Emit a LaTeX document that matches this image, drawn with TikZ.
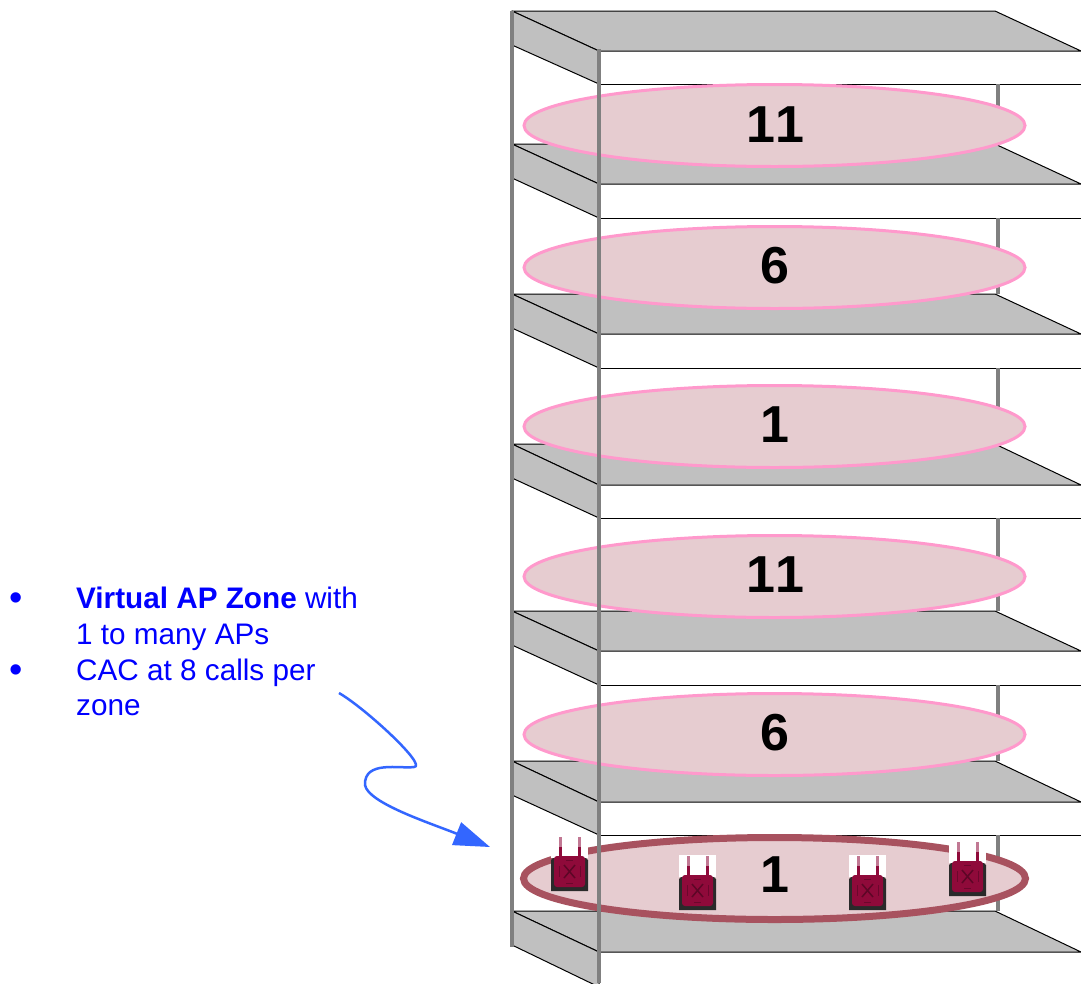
\documentclass[tikz,border=0pt]{standalone}
\usepackage{fontspec}
\setmainfont{Liberation Sans}
\newfontfamily\channelfont[Kerning=Off]{Liberation Sans}
\usetikzlibrary{arrows.meta}
\definecolor{floorgray}{HTML}{C0C0C0}
\definecolor{postgray}{HTML}{808080}
\definecolor{zonefill}{HTML}{E6CCD0}
\definecolor{zonepink}{HTML}{FF99CC}
\definecolor{zonered}{HTML}{A8525F}
\definecolor{apred}{HTML}{8F0A3A}
\definecolor{apdark}{HTML}{2A2A2A}
\definecolor{calloutblue}{HTML}{3366FF}
\tikzset{
	floorplate/.style={fill=floorgray, draw=black, line width=1pt, line join=round},
	post/.style={draw=postgray, line width=4.5pt},
	zone/.style={fill=zonefill, draw=zonepink, line width=3pt},
	channel/.style={font=\channelfont\fontsize{52}{52}\selectfont\bfseries, text=black, inner sep=0pt},
	callout/.style={font=\fontsize{29.7}{36}\selectfont, text=blue, inner sep=0pt, anchor=base west},
	dot/.style={callout, font=\fontsize{38}{38}\selectfont}
}
% back edge, front edge and lower edge of one shelf
\def\shelf(#1,#2,#3){
	\draw[floorplate] (512, #1) -- (995, #1) -- (1081, #2) -- (599, #2) -- cycle;
	\draw[floorplate] (512, #1) -- (599, #2) -- (599, #3) -- (512, {#1+34}) -- cycle;
	\draw[black, line width=1pt] (599, #3) -- (1081, #3);
}
\def\accesspoint(#1,#2){
	\begin{scope}[shift={(#1, #2)}]
		\fill[white] (0, 0) rectangle (37, 22);
		\fill[apdark] (0, 24) -- (2, 22) -- (35, 22) -- (37, 24) -- (37, 55) -- (0, 55) -- cycle;
		\fill[apred, rounded corners=3pt] (3, 20) rectangle (34, 51);
		\draw[apred!55, line width=3pt] (9, 1) -- (9, 11);
		\draw[apred!55, line width=3pt] (28, 1) -- (28, 11);
		\draw[apred, line width=3pt] (9, 11) -- (9, 21);
		\draw[apred, line width=3pt] (28, 11) -- (28, 21);
		\draw[apred!65!black, line width=1.5pt] (13, 29) -- (24, 42);
		\draw[apred!65!black, line width=1.5pt] (24, 29) -- (13, 42);
		\draw[apred!75!black, line width=1pt] (8, 30) -- (8, 41);
		\draw[apred!75!black, line width=1pt] (29, 30) -- (29, 41);
		\draw[apred!75!black, line width=1pt] (15, 24) -- (22, 24);
		\draw[apred!75!black, line width=1pt] (15, 47) -- (22, 47);
	\end{scope}
}

\begin{document}
\begin{tikzpicture}[x=1pt, y=-1pt]
	%%%%% START %%%%%
	\useasboundingbox (0, 0) rectangle (1081, 983);
	\clip (0, 0) rectangle (1081, 983);
	\fill[white] (0, 0) rectangle (1081, 983);

	\shelf(11, 51, 84);
	\shelf(144, 184, 218);
	\shelf(294, 334, 368);
	\shelf(444, 485, 518);
	\shelf(611, 651, 685);
	\shelf(761, 802, 835);
	\shelf(911, 952, 987);

	\draw[post] (998, 84) -- (998, 144);
	\draw[post] (998, 218) -- (998, 294);
	\draw[post] (998, 368) -- (998, 444);
	\draw[post] (998, 518) -- (998, 611);
	\draw[post] (998, 685) -- (998, 761);
	\draw[post] (998, 835) -- (998, 911);

	\draw[zone] (774.5, 125.5) ellipse (250.5 and 41);
	\draw[zone] (774.5, 267.5) ellipse (250.5 and 41);
	\draw[zone] (774.5, 426.5) ellipse (250.5 and 41);
	\draw[zone] (774.5, 576.5) ellipse (250.5 and 41);
	\draw[zone] (774.5, 734.5) ellipse (250.5 and 41);
	\draw[zone, draw=zonered, line width=7pt] (774.5, 878.5) ellipse (251 and 41);

	\node[channel] (zoneA) at (775, 125) {11};
	\node[channel] (zoneB) at (775, 266) {6};
	\node[channel] (zoneC) at (775, 425) {1};
	\node[channel] (zoneD) at (775, 575) {11};
	\node[channel] (zoneE) at (775, 733) {6};
	\node[channel] (zoneF) at (775, 875) {1};

	\accesspoint(551, 836);
	\accesspoint(679, 855);
	\accesspoint(849, 855);
	\accesspoint(949, 841);

	\draw[post] (512, 11) -- (512, 947);
	\draw[post] (599, 49) -- (599, 983);

	\node[dot] (bulletA) at (9, 610) {•};
	\node[callout] (lineA) at (76, 608) {\textbf{Virtual AP Zone} with};
	\node[callout] (lineB) at (76, 644) {1 to many APs};
	\node[dot] (bulletB) at (9, 682) {•};
	\node[callout] (lineC) at (76, 680) {CAC at 8 calls per};
	\node[callout] (lineD) at (76, 715) {zone};

	\coordinate (arrowstart) at (339, 693);
	\coordinate (arrowtip) at (490, 847);
	\draw[calloutblue, line width=2.5pt, -{Triangle[length=36pt, width=24pt]}] (arrowstart)
		.. controls (365, 708) and (428, 766) .. (414, 767)
		.. controls (400, 769) and (364, 760) .. (365, 785)
		.. controls (368, 803) and (430, 823) .. (arrowtip);
	%%%%% END %%%%%
\end{tikzpicture}
\end{document}
